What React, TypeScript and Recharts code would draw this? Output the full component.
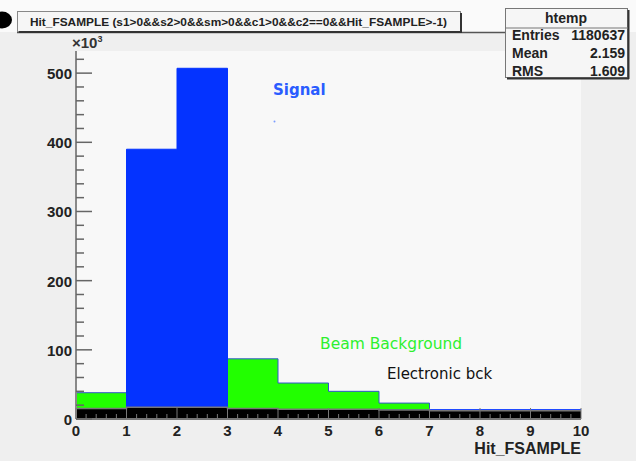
import { ComposedChart, Area, XAxis, YAxis, CartesianGrid } from 'recharts'

// one value per bin, bin i spans [i, i+1)
const binStarts = [0, 1, 2, 3, 4, 5, 6, 7, 8, 9]
const signal = [10, 390, 507, 13, 13, 13, 13, 13.5, 13.5, 13.5]
const beamBkg = [38, 0, 0, 87, 52, 40, 23, 10, 8, 7]
const elecBkg = [15, 17, 17, 15, 14, 14, 13, 12, 12, 12]

const xMajor = [0, 1, 2, 3, 4, 5, 6, 7, 8, 9, 10]
const yMajor = [0, 100, 200, 300, 400, 500]
const yMax = 532

const xTicks = Array.from({ length: 51 }, (_, i) => Math.round(i * 2) / 10)
const yTicks = Array.from({ length: 27 }, (_, i) => i * 20)

// last edge repeats the final bin so the step closes at x = 10
const rows = [...binStarts, 10].map((x, i) => {
  const k = Math.min(i, binStarts.length - 1)
  return { x, signal: signal[k], beam: beamBkg[k], elec: elecBkg[k] }
})

const axisFont = '"Liberation Sans", Arial, sans-serif'

function YTick(props: any) {
  const { x, y, payload } = props
  const v = payload.value
  const major = yMajor.includes(v)
  return (
    <g>
      <line x1={x} x2={x + (major ? 16 : 8)} y1={y} y2={y} stroke="#666" strokeWidth={1.5} />
      {major && (
        <text x={x - 4} y={y + 6} textAnchor="end" fontFamily={axisFont} fontWeight="bold" fontSize={15} fill="#222">
          {v}
        </text>
      )}
    </g>
  )
}

function XTick(props: any) {
  const { x, y, payload } = props
  const v = payload.value
  const major = xMajor.includes(v)
  return (
    <g>
      <line x1={x} x2={x} y1={y} y2={y - (major ? 11 : 5)} stroke="#777" strokeWidth={1} />
      {major && (
        <text x={x} y={y + 17} textAnchor="middle" fontFamily={axisFont} fontWeight="bold" fontSize={15} fill="#222">
          {v}
        </text>
      )}
    </g>
  )
}

export default function App() {
  return (
    <div style={{ position: 'absolute', left: 0, top: 0, width: 636, height: 461, background: '#efefef' }}>
      <ComposedChart width={636} height={461} data={rows} margin={{ top: 51, right: 55, bottom: 0, left: 0 }}>
        <CartesianGrid fill="#f8f8f8" horizontal={false} vertical={false} />
        <XAxis
          dataKey="x"
          type="number"
          domain={[0, 10]}
          ticks={xTicks}
          interval={0}
          height={42}
          tickSize={0}
          tickMargin={0}
          tick={<XTick />}
          axisLine={{ stroke: '#777', strokeWidth: 2 }}
          label={{
            content: (p: any) => (
              <text
                x={p.viewBox.x + p.viewBox.width}
                y={p.viewBox.y + 35}
                textAnchor="end"
                fontFamily={axisFont}
                fontWeight="bold"
                fontSize={16}
                fill="#222"
              >
                Hit_FSAMPLE
              </text>
            ),
          }}
        />
        <XAxis xAxisId="top" orientation="top" type="number" domain={[0, 10]} height={0} tick={false} tickLine={false} axisLine={{ stroke: '#999', strokeWidth: 1.5 }} />
        <YAxis
          type="number"
          domain={[0, yMax]}
          ticks={yTicks}
          interval={0}
          width={76}
          tickSize={0}
          tickMargin={0}
          tick={<YTick />}
          axisLine={{ stroke: '#888', strokeWidth: 2 }}
        />
        <YAxis yAxisId="right" orientation="right" type="number" domain={[0, yMax]} width={0} tick={false} tickLine={false} axisLine={{ stroke: '#666', strokeWidth: 2 }} />
        <Area type="stepAfter" dataKey="beam" baseValue={0} fill="#22ff00" fillOpacity={1} stroke="#3355cc" strokeWidth={1} isAnimationActive={false} />
        <Area type="stepAfter" dataKey="signal" baseValue={0} fill="#0433ff" fillOpacity={1} stroke="#0433ff" strokeWidth={1} isAnimationActive={false} />
        <Area type="stepAfter" dataKey="elec" baseValue={0} fill="#000000" fillOpacity={1} stroke="#777" strokeWidth={1.5} isAnimationActive={false} />
      </ComposedChart>

      <svg width={636} height={461} style={{ position: 'absolute', left: 0, top: 0, pointerEvents: 'none' }}>
        <rect x={0} y={0} width={636} height={32} fill="#fafafa" />
        <ellipse cx={2} cy={20} rx={10} ry={8.5} fill="#000" />
        <line x1={17} x2={505} y1={32.5} y2={32.5} stroke="#555" strokeWidth={1.5} />

        {/* title box */}
        <rect x={17.5} y={11.5} width={443} height={20} fill="#f6f6f6" stroke="#888" />
        <line x1={19} x2={461} y1={32} y2={32} stroke="#333" strokeWidth={2} />
        <line x1={461} x2={461} y1={13} y2={33} stroke="#333" strokeWidth={2} />
        <text x={30} y={25.5} fontFamily={axisFont} fontWeight="bold" fontSize={11} fill="#222" textLength={417} lengthAdjust="spacingAndGlyphs">
          {'Hit_FSAMPLE (s1>0&&s2>0&&sm>0&&c1>0&&c2==0&&Hit_FSAMPLE>-1)'}
        </text>

        {/* stats box */}
        <rect x={505.5} y={8.5} width={122} height={69} fill="#f6f6f6" stroke="#777" />
        <line x1={507} x2={629} y1={78.5} y2={78.5} stroke="#333" strokeWidth={2} />
        <line x1={628.5} x2={628.5} y1={10} y2={79} stroke="#333" strokeWidth={2} />
        <line x1={505} x2={628} y1={28} y2={28} stroke="#777" strokeWidth={1} />
        <text x={566} y={23} textAnchor="middle" fontFamily={axisFont} fontWeight="bold" fontSize={14} fill="#222">htemp</text>
        <text x={512} y={40} fontFamily={axisFont} fontWeight="bold" fontSize={14} fill="#222">Entries</text>
        <text x={625} y={40} textAnchor="end" fontFamily={axisFont} fontWeight="bold" fontSize={14} fill="#222">1180637</text>
        <text x={512} y={58} fontFamily={axisFont} fontWeight="bold" fontSize={14} fill="#222">Mean</text>
        <text x={625} y={58} textAnchor="end" fontFamily={axisFont} fontWeight="bold" fontSize={14} fill="#222">2.159</text>
        <text x={512} y={76} fontFamily={axisFont} fontWeight="bold" fontSize={14} fill="#222">RMS</text>
        <text x={625} y={76} textAnchor="end" fontFamily={axisFont} fontWeight="bold" fontSize={14} fill="#222">1.609</text>

        {/* axis multiplier */}
        <text x={72} y={48} fontFamily={axisFont} fontWeight="bold" fontSize={15} fill="#333">
          ×10<tspan dy={-6} fontSize={9}>3</tspan>
        </text>

        {/* annotations */}
        <text x={273} y={95} fontFamily='"DejaVu Sans", sans-serif' fontWeight="bold" fontSize={15} fill="#2a5cff">Signal</text>
        <circle cx={274.5} cy={121.5} r={1} fill="#7a9cff" />
        <text x={320} y={349} fontFamily='"DejaVu Sans", sans-serif' fontSize={15.5} fill="#2ef02e">Beam Background</text>
        <text x={387} y={379} fontFamily='"DejaVu Sans", sans-serif' fontSize={15} fill="#111">Electronic bck</text>
      </svg>
    </div>
  )
}
